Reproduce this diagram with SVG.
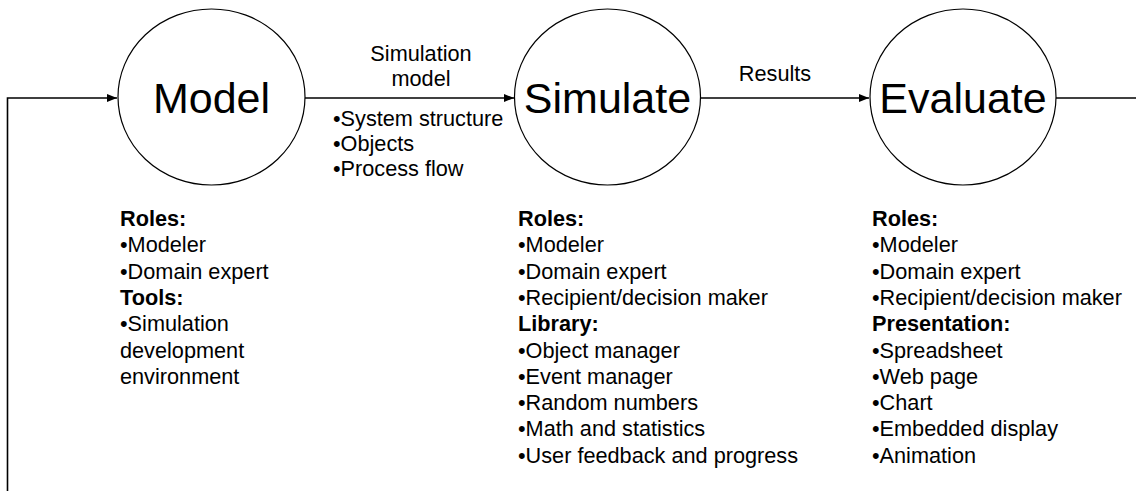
<svg xmlns="http://www.w3.org/2000/svg" width="1136" height="491" viewBox="0 0 1136 491">
  <defs>
    <marker id="arrow" markerWidth="10" markerHeight="8" refX="10" refY="4" orient="auto" markerUnits="userSpaceOnUse">
      <path d="M0,0 L10,4 L0,8 Z" fill="#000"/>
    </marker>
    <style>
      .stage { fill: #fff; stroke: #000; stroke-width: 1.2; }
      .big { font-family: "Liberation Sans", Arial, sans-serif; font-size: 43px; fill: #000; text-anchor: middle; }
      .txt { font-family: "Liberation Sans", Arial, sans-serif; font-size: 21.7px; fill: #000; }
      .b { font-weight: bold; }
      .mid { text-anchor: middle; }
      .conn { stroke: #000; stroke-width: 1.6; fill: none; }
    </style>
  </defs>
  <rect width="1136" height="491" fill="#fff"/>

  <!-- connectors and their labels -->
  <g id="connectors">
    <polyline class="conn" points="7.5,491 7.5,98 117,98" marker-end="url(#arrow)"/>
    <line class="conn" x1="305" y1="98" x2="514" y2="98" marker-end="url(#arrow)"/>
    <line class="conn" x1="701" y1="98" x2="869" y2="98" marker-end="url(#arrow)"/>
    <line class="conn" x1="1056" y1="98" x2="1136" y2="98"/>
    <text class="txt mid" x="421" y="61">Simulation</text>
    <text class="txt mid" x="421" y="85.5">model</text>
    <text class="txt mid" x="775" y="81">Results</text>
    <text class="txt" x="333" y="126">•System structure</text>
    <text class="txt" x="333" y="151">•Objects</text>
    <text class="txt" x="333" y="176">•Process flow</text>
  </g>

  <!-- stage: Model -->
  <g id="model">
    <ellipse class="stage" cx="211.5" cy="97" rx="93.5" ry="88"/>
    <text class="big" x="211.5" y="113">Model</text>
    <text class="txt" x="120" y="226"><tspan class="b">Roles:</tspan><tspan x="120" dy="26.3">•Modeler</tspan><tspan x="120" dy="26.3">•Domain expert</tspan><tspan x="120" dy="26.3" class="b">Tools:</tspan><tspan x="120" dy="26.3">•Simulation</tspan><tspan x="120" dy="26.3">development</tspan><tspan x="120" dy="26.3">environment</tspan></text>
  </g>

  <!-- stage: Simulate -->
  <g id="simulate">
    <ellipse class="stage" cx="607.5" cy="97" rx="93" ry="88"/>
    <text class="big" x="607.5" y="113">Simulate</text>
    <text class="txt" x="518" y="226"><tspan class="b">Roles:</tspan><tspan x="518" dy="26.3">•Modeler</tspan><tspan x="518" dy="26.3">•Domain expert</tspan><tspan x="518" dy="26.3">•Recipient/decision maker</tspan><tspan x="518" dy="26.3" class="b">Library:</tspan><tspan x="518" dy="26.3">•Object manager</tspan><tspan x="518" dy="26.3">•Event manager</tspan><tspan x="518" dy="26.3">•Random numbers</tspan><tspan x="518" dy="26.3">•Math and statistics</tspan><tspan x="518" dy="26.3">•User feedback and progress</tspan></text>
  </g>

  <!-- stage: Evaluate -->
  <g id="evaluate">
    <ellipse class="stage" cx="963" cy="97" rx="93" ry="88"/>
    <text class="big" x="963" y="113">Evaluate</text>
    <text class="txt" x="872" y="226"><tspan class="b">Roles:</tspan><tspan x="872" dy="26.3">•Modeler</tspan><tspan x="872" dy="26.3">•Domain expert</tspan><tspan x="872" dy="26.3">•Recipient/decision maker</tspan><tspan x="872" dy="26.3" class="b">Presentation:</tspan><tspan x="872" dy="26.3">•Spreadsheet</tspan><tspan x="872" dy="26.3">•Web page</tspan><tspan x="872" dy="26.3">•Chart</tspan><tspan x="872" dy="26.3">•Embedded display</tspan><tspan x="872" dy="26.3">•Animation</tspan></text>
  </g>
</svg>
